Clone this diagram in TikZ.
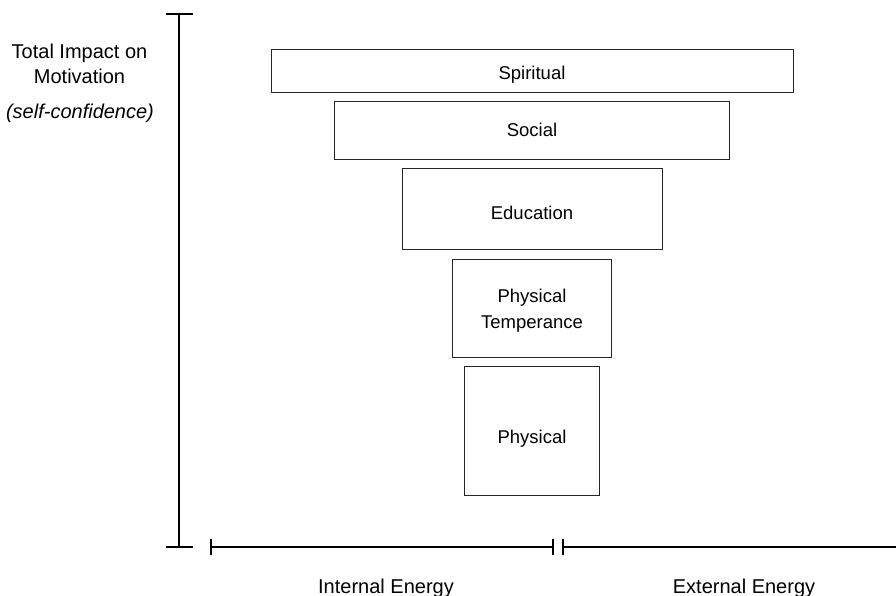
\documentclass[tikz,border=0pt]{standalone}
\usepackage{fontspec}
\setmainfont{Liberation Sans}
\begin{document}
\begin{tikzpicture}[x=1pt,y=-1pt,
  level/.style={draw=black!85,line width=1pt,inner sep=0pt,anchor=north west},
  boxtext/.style={font=\fontsize{18.5}{22}\selectfont,inner sep=0pt,anchor=base},
  axis/.style={line width=2pt,black},
  lab/.style={font=\fontsize{20}{24}\selectfont,inner sep=0pt,anchor=base}]
\useasboundingbox (0,0) rectangle (896,596);

% stacked levels, widest at the top
\node[level,minimum width=522pt,minimum height=43pt] (spiritual) at (271,49) {};
\node[level,minimum width=395pt,minimum height=58pt] (social) at (334,101) {};
\node[level,minimum width=260pt,minimum height=81pt] (education) at (402,168) {};
\node[level,minimum width=159pt,minimum height=98pt] (temperance) at (452,259) {};
\node[level,minimum width=135pt,minimum height=129pt] (physical) at (464,366) {};

\node[boxtext] (tspiritual) at (532,79.5) {Spiritual};
\node[boxtext] (tsocial) at (532,137) {Social};
\node[boxtext] (teducation) at (532,219.5) {Education};
\node[boxtext] (ttemperA) at (532,302) {Physical};
\node[boxtext] (ttemperB) at (532,328.5) {Temperance};
\node[boxtext] (tphysical) at (532,443.5) {Physical};

% vertical axis with end bars
\coordinate (vtop) at (179,14);
\coordinate (vbot) at (179,547);
\draw[axis] (vtop) -- (vbot);
\draw[axis] ([xshift=-13pt]vtop) -- ([xshift=14pt]vtop);
\draw[axis] ([xshift=-13pt]vbot) -- ([xshift=14pt]vbot);

% horizontal axis split into internal and external parts
\coordinate (hstart) at (211,547);
\coordinate (hmid) at (553,547);
\coordinate (hmid2) at (563,547);
\coordinate (hend) at (896,547);
\draw[axis] (hstart) -- (hmid);
\draw[axis] (hmid2) -- (hend);
\foreach \p in {hstart,hmid,hmid2}
  \draw[axis] ([yshift=-8pt]\p) -- ([yshift=8pt]\p);

% labels
\node[lab] (ytitleA) at (79.5,58.5) {Total Impact on};
\node[lab] (ytitleB) at (79.5,83.5) {Motivation};
\node[lab,font=\fontsize{20}{24}\itshape] (ysub) at (80,118.5) {(self-confidence)};
\node[lab] (internal) at (386,593.5) {Internal Energy};
\node[lab] (external) at (744,593.5) {External Energy};
\end{tikzpicture}
\end{document}
